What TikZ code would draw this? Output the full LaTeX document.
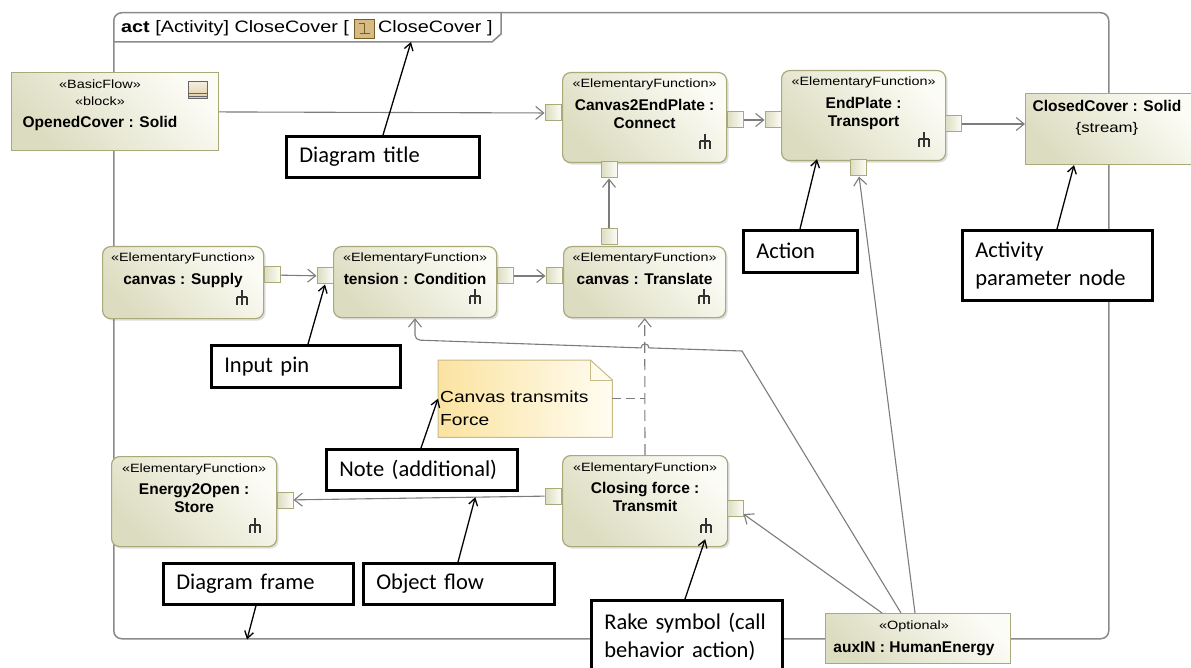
\documentclass[tikz,border=0pt]{standalone}
\usepackage{fontspec}
\setmainfont{Liberation Sans}
\newfontfamily\stretchfont[FakeStretch=1.2]{Liberation Sans}
\newfontfamily\calloutfont{Carlito}
\usetikzlibrary{arrows.meta,shadows,calc,positioning}
\definecolor{olivedraw}{HTML}{A9A97A}
\definecolor{olivedark}{HTML}{DCDCC0}
\definecolor{olivelight}{HTML}{FCFCF6}
\definecolor{notedark}{HTML}{FBE3A0}
\definecolor{notelight}{HTML}{FFFDF2}
\definecolor{notedraw}{HTML}{C9BA86}
\definecolor{flowgrey}{HTML}{7C7C7C}
\definecolor{framegrey}{HTML}{8A8A8A}
\definecolor{icontan}{HTML}{D6BC82}
\definecolor{iconbrown}{HTML}{7A5C28}

\begin{document}
\begin{tikzpicture}[x=1pt,y=-1pt,
    action/.style={draw=olivedraw, line width=1.2pt, rounded corners=8pt,
        left color=olivedark, right color=olivelight, shading angle=135, anchor=north west,
        inner sep=0pt, drop shadow={shadow xshift=2pt, shadow yshift=-2pt, opacity=.25}},
    param/.style={draw=olivedraw, line width=1.2pt, left color=olivedark,
        right color=olivelight, shading angle=135, anchor=north west, inner sep=0pt},
    pinbox/.style={draw=olivedraw, line width=1pt, left color=olivedark, right color=olivelight,
        minimum size=16pt, inner sep=0pt},
    stereo/.style={font=\stretchfont\fontsize{12}{14}\selectfont, inner sep=0pt},
    fname/.style={font=\bfseries\fontsize{15.5}{18}\selectfont, align=center, inner sep=0pt},
    streamtext/.style={font=\stretchfont\fontsize{14}{17}\selectfont, inner sep=0pt},
    titletext/.style={font=\stretchfont\fontsize{16.5}{20}\selectfont, inner sep=0pt},
    notetext/.style={font=\stretchfont\fontsize{16}{23}\selectfont, inner sep=0pt, align=left},
    titleicon/.style={draw=iconbrown, fill=icontan, line width=.8pt,
        minimum width=20, minimum height=19, inner sep=0pt},
    flow/.style={draw=flowgrey, line width=1.1pt, -{Straight Barb[length=8pt,width=13pt]}},
    callout/.style={draw=black, line width=2.6pt, fill=white, anchor=north west,
        font=\calloutfont\fontsize{22.5}{28}\selectfont, align=left,
        inner xsep=13pt, inner ysep=0pt},
    pointer/.style={draw=black, line width=1.3pt, -{Straight Barb[length=7pt,width=9pt]}},
    rake/.pic={\draw[line width=1.8pt, draw=black!80]
        (0,-8) -- (0,7) (-5,-1) -- (5,-1) (-5,-1) -- (-5,7) (5,-1) -- (5,7);}
]
\useasboundingbox (0,0) rectangle (1191,668);

% frame and title tab
\node[draw=framegrey, line width=1.5pt, rounded corners=8pt, anchor=north west,
    minimum width=995, minimum height=626, inner sep=0pt] (frame) at (113,12) {};
\draw[framegrey, line width=1.5pt]
    ([yshift=-30]frame.north west) -- ++(379,0) -- ++(9,-8) -- ++(0,-22);
\node[titletext, anchor=base west] (title1) at (121,33) {\textbf{act} [Activity] CloseCover [};
\node[titleicon, right=5pt of title1] (titleicon) {};
\draw[iconbrown, line width=1.2pt]
    ([shift={(-6,-5)}]titleicon.center) -- ++(6,0)
    ([shift={(0,-6)}]titleicon.center) -- ++(0,11)
    ([shift={(-5,5)}]titleicon.center) -- ++(10,0);
\node[titletext, right=3pt of titleicon] (title2) {CloseCover ]};

% actions
\foreach \nm/\x/\y/\bw/\bh/\txt in {%
    supply/102/246/161/72/{canvas : Supply},
    tension/333/246/163/71/{tension : Condition},
    translate/563/246/162/71/{canvas : Translate},
    connect/562/72/164/90/{Canvas2EndPlate :\\Connect},
    transport/781/70/164/90/{EndPlate :\\Transport},
    store/111/456/165/90/{Energy2Open :\\Store},
    transmit/562/455/165/91/{Closing force :\\Transmit}%
}{
    \node[action, minimum width=\bw, minimum height=\bh] (\nm) at (\x,\y) {};
    \node[stereo, anchor=base] at ([yshift=-16]\nm.north) {«ElementaryFunction»};
    \node[fname, anchor=north] at ([yshift=-27]\nm.north) {\txt};
    \pic at ([xshift=-22,yshift=21]\nm.south east) {rake};
}

% pins
\foreach \p/\x/\y in {connect-in/553/113, connect-out/735/120, connect-bot/609/170,
    translate-top/609/237, translate-in/554/276, transport-in/773/120,
    transport-out/953/124, transport-bot/858/168, supply-out/272/275,
    tension-in/325/276, tension-out/505/276, store-in/285/500,
    transmit-out/553/496, transmit-in/735/508}
    \node[pinbox] (\p) at (\x,\y) {};

% parameter nodes
\node[param, minimum width=207, minimum height=78] (opened) at (11,72) {};
\node[stereo, anchor=base] at ([xshift=89,yshift=-17]opened.north west) {«BasicFlow»};
\node[stereo, anchor=base] at ([xshift=89,yshift=-34]opened.north west) {«block»};
\node[fname, anchor=base] at ([xshift=89,yshift=-56]opened.north west) {OpenedCover : Solid};
\node[draw=black!60, line width=.8pt, top color=icontan!25, bottom color=icontan!75,
    minimum width=19, minimum height=17, inner sep=0pt, anchor=north east]
    (blockicon) at ([xshift=-11,yshift=-9]opened.north east) {};
\draw[black!60, line width=.8pt]
    ([yshift=5]blockicon.south west) -- ([yshift=5]blockicon.south east)
    ([yshift=2.5]blockicon.south west) -- ([yshift=2.5]blockicon.south east);

\node[param, minimum width=172, minimum height=71] (closed) at (1025,93) {};
\node[fname, anchor=base] at ([xshift=82,yshift=-18.5]closed.north west) {ClosedCover : Solid};
\node[streamtext, anchor=base] at ([xshift=82,yshift=-40]closed.north west) {\{stream\}};

\node[param, minimum width=185, minimum height=50] (aux) at (825,613) {};
\node[stereo, anchor=base] at ([xshift=89,yshift=-16]aux.north west) {«Optional»};
\node[fname, anchor=base] at ([xshift=89,yshift=-39.5]aux.north west) {auxIN : HumanEnergy};

% note
\node[minimum width=174, minimum height=77, inner sep=0pt, anchor=north west] (note) at (438,360) {};
\draw[draw=notedraw, line width=1pt, left color=notedark, right color=notelight]
    (note.north west) -- ([xshift=-22]note.north east) -- ([yshift=-20]note.north east)
    -- (note.south east) -- (note.south west) -- cycle;
\draw[notedraw, line width=1pt] ([xshift=-22]note.north east) |- ([yshift=-20]note.north east);
\node[notetext, anchor=west] at ([xshift=2,yshift=-10]note.west) {Canvas transmits\\Force};

% object flows
\draw[flow] (opened) -- (connect-in);
\draw[flow] (connect-out) -- (transport-in);
\draw[flow] (transport-out) -- (transport-out -| closed.west);
\draw[flow] (supply-out) -- (tension-in);
\draw[flow] (tension-out) -- (translate-in);
\draw[flow] (translate-top) -- (connect-bot);
\draw[flow] (transmit-out) -- (store-in);
\draw[flow] ([xshift=57]aux.north west) -- (transmit-in);
\draw[flow] ([xshift=90]aux.north west) -- (transport-bot);
\coordinate (bend) at (742,351);
\coordinate (hop) at (649,347.9);
\coordinate (turn) at (415,340);
\draw[flow] ([xshift=76]aux.north west) -- (bend) -- (hop)
    arc[start angle=0, end angle=-180, radius=4]
    {[rounded corners=5] -- (turn) -- ([xshift=82]tension.south west)};
\draw[flow, dash pattern=on 11pt off 6pt] (transmit) -- (translate);
\draw[flowgrey, line width=1pt, dash pattern=on 9pt off 5pt] (note.east) -- (note.east -| translate.south);

% callouts
\foreach \nm/\x/\y/\bw/\bh/\txt in {%
    titlebox/285/135/193/41/{Diagram title},
    actionbox/742/229/114/42/{Action},
    parambox/961/229/190/70/{Activity\\parameter node},
    inputbox/210/344/189/42/{Input pin},
    notebox/325/448/191/41/{Note (additional)},
    framebox/162/562/190/41/{Diagram frame},
    flowbox/362/562/191/41/{Object flow},
    rakebox/590/599/191/74/{Rake symbol (call\\behavior action)}%
}{
    \pgfmathsetmacro\tw{\bw-26}
    \node[callout, minimum width=\bw, minimum height=\bh, text width=\tw pt] (\nm) at (\x,\y) {\txt};
}
\draw[pointer] ([xshift=98]titlebox.north west) -- ([xshift=298,yshift=-30]frame.north west);
\draw[pointer] ([xshift=58]actionbox.north west) -- ([xshift=36,yshift=2]transport.south west);
\draw[pointer] ([xshift=96]parambox.north west) -- ([xshift=49]closed.south west);
\draw[pointer] ([xshift=98]inputbox.north west) -- (tension-in.south);
\draw[pointer] ([xshift=96]notebox.north west) -- (note.west);
\draw[pointer] ([xshift=94]framebox.south west) -- ([xshift=134]frame.south west);
\draw[pointer] ([xshift=96]flowbox.north west) -- ($(transmit-out)!0.29!(store-in)$);
\draw[pointer] ([xshift=95]rakebox.north west) -- ([xshift=-23,yshift=8]transmit.south east);
\end{tikzpicture}
\end{document}
